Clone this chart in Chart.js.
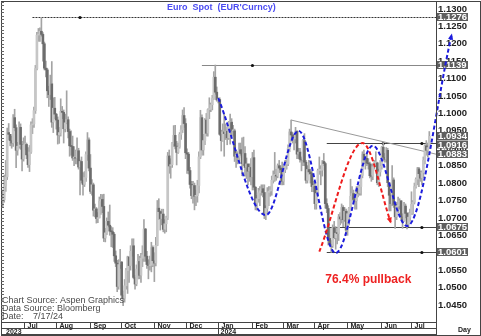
<!DOCTYPE html>
<html>
<head>
<meta charset="utf-8">
<script src="https://cdn.jsdelivr.net/npm/chart.js@4.4.1/dist/chart.umd.min.js"></script>
<style>
  html, body { margin: 0; padding: 0; background: #fff; }
</style>
</head>
<body>
<canvas id="myChart" width="481" height="336"></canvas>
<script>
// daily EUR/USD bars, first bar 2023-06-12, weekdays only
const firstOpen = 1.0750;
const closes = [
  1.0752,1.0792,1.0818,1.0945,1.0940,1.0922,1.0915,1.0988,1.0959,1.0894,1.0906,1.0960,1.0911,1.0869,1.0910,
  1.0911,1.0881,1.0853,1.0889,1.0967,1.0970,1.1008,1.1129,1.1225,1.1228,1.1236,1.1227,1.1200,1.1130,1.1125,1.1065,1.1054,1.1085,1.0975,1.1015,1.0998,
  1.0981,1.0938,1.0945,1.1006,1.1003,1.0956,1.0973,1.0982,1.0948,1.0907,1.0905,1.0872,1.0872,1.0871,1.0893,1.0846,1.0862,1.0808,1.0796,1.0816,1.0882,1.0924,1.0843,
  1.0776,1.0795,1.0722,1.0726,1.0698,1.0700,1.0748,1.0753,1.0733,1.0642,1.0657,1.0690,1.0679,1.0662,1.0660,1.0653,1.0591,1.0570,1.0503,1.0566,1.0573,
  1.0478,1.0469,1.0505,1.0549,1.0588,1.0563,1.0604,1.0620,1.0529,1.0510,1.0553,1.0575,1.0535,1.0584,1.0594,1.0668,1.0590,1.0566,1.0563,1.0564,1.0615,1.0577,
  1.0570,1.0621,1.0728,1.0718,1.0698,1.0711,1.0667,1.0683,1.0700,1.0878,1.0849,1.0853,1.0913,1.0937,1.0906,1.0888,1.0904,1.0940,1.0953,1.0994,1.0971,1.0887,
  1.0883,1.0836,1.0796,1.0764,1.0793,1.0762,1.0764,1.0793,1.0875,1.0988,1.0895,1.0922,1.0981,1.0943,1.1011,1.1012,1.1025,1.1043,1.1104,1.1061,1.1039,
  1.1040,1.0940,1.0922,1.0947,1.0942,1.0949,1.0930,1.0973,1.0975,1.0950,1.0950,1.0877,1.0884,1.0874,1.0896,1.0885,1.0856,1.0885,1.0845,1.0855,1.0834,1.0845,1.0818,
  1.0873,1.0788,1.0742,1.0755,1.0772,1.0778,1.0784,1.0773,1.0708,1.0727,1.0773,1.0777,1.0778,1.0808,1.0822,1.0823,1.0820,1.0850,1.0843,1.0838,1.0805,
  1.0838,1.0855,1.0855,1.0899,1.0947,1.0938,1.0927,1.0927,1.0949,1.0883,1.0889,1.0868,1.0866,1.0922,1.0860,1.0808,1.0839,1.0832,1.0827,1.0790,1.0791,
  1.0741,1.0770,1.0836,1.0837,1.0837,1.0862,1.0856,1.0741,1.0727,1.0641,1.0624,1.0620,1.0672,1.0643,1.0656,1.0655,1.0703,1.0697,1.0730,1.0695,1.0719,1.0665,
  1.0712,1.0727,1.0762,1.0770,1.0753,1.0749,1.0782,1.0771,1.0790,1.0822,1.0883,1.0866,1.0871,1.0857,1.0855,1.0821,1.0819,1.0847,1.0858,1.0858,1.0801,1.0832,1.0848,
  1.0903,1.0874,1.0868,1.0894,1.0801,1.0765,1.0741,1.0809,1.0739,1.0703,1.0734,1.0736,1.0749,1.0703,1.0692,1.0734,1.0713,1.0682,1.0702,1.0713,
  1.0739,1.0745,1.0790,1.0811,1.0841,1.0827,1.0814,1.0830,1.0865,1.0907,1.0894,1.0902,1.0934
];
const highs = [
  1.0780,1.0823,1.0865,1.0958,1.0971,1.0940,1.0935,1.0997,1.1012,1.0967,1.0917,1.0976,1.0970,1.0920,1.0930,
  1.0935,1.0915,1.0902,1.0908,1.0976,1.0985,1.1018,1.1138,1.1233,1.1244,1.1246,1.1276,1.1232,1.1205,1.1150,1.1130,1.1078,1.1110,1.1149,1.1045,1.1046,
  1.1000,1.0990,1.0960,1.1042,1.1020,1.1010,1.0998,1.1065,1.0990,1.0955,1.0950,1.0935,1.0905,1.0895,1.0930,1.0900,1.0866,1.0875,1.0830,1.0833,1.0890,1.0945,1.0930,
  1.0882,1.0810,1.0800,1.0740,1.0730,1.0715,1.0760,1.0768,1.0767,1.0768,1.0670,1.0700,1.0717,1.0737,1.0675,1.0672,1.0658,1.0605,1.0578,1.0580,1.0610,
  1.0575,1.0490,1.0523,1.0555,1.0590,1.0580,1.0620,1.0640,1.0640,1.0535,1.0565,1.0595,1.0590,1.0598,1.0620,1.0695,1.0670,1.0604,1.0580,1.0590,1.0630,1.0620,
  1.0600,1.0644,1.0750,1.0755,1.0720,1.0725,1.0725,1.0695,1.0705,1.0888,1.0895,1.0870,1.0917,1.0965,1.0966,1.0920,1.0915,1.0945,1.0965,1.1010,1.1017,1.0985,
  1.0898,1.0888,1.0845,1.0805,1.0805,1.0800,1.0780,1.0808,1.0890,1.1009,1.0996,1.0940,1.0985,1.1000,1.1013,1.1045,1.1030,1.1052,1.1120,1.1139,1.1076,
  1.1045,1.1045,1.0952,1.0970,1.0998,1.0970,1.0960,1.0977,1.0998,1.0985,1.0966,1.0955,1.0895,1.0890,1.0915,1.0915,1.0930,1.0932,1.0905,1.0872,1.0845,1.0855,1.0870,
  1.0888,1.0895,1.0790,1.0765,1.0785,1.0790,1.0795,1.0795,1.0795,1.0735,1.0787,1.0790,1.0790,1.0820,1.0835,1.0888,1.0840,1.0855,1.0865,1.0850,1.0860,
  1.0850,1.0865,1.0865,1.0910,1.0955,1.0981,1.0945,1.0940,1.0960,1.0950,1.0900,1.0900,1.0875,1.0925,1.0942,1.0865,1.0850,1.0865,1.0840,1.0835,1.0805,
  1.0800,1.0780,1.0840,1.0875,1.0850,1.0865,1.0885,1.0860,1.0755,1.0735,1.0670,1.0635,1.0680,1.0690,1.0675,1.0670,1.0710,1.0715,1.0740,1.0735,1.0730,1.0725,
  1.0720,1.0730,1.0811,1.0790,1.0780,1.0760,1.0790,1.0790,1.0795,1.0825,1.0890,1.0895,1.0875,1.0885,1.0870,1.0860,1.0855,1.0855,1.0865,1.0890,1.0860,1.0840,1.0865,
  1.0905,1.0916,1.0885,1.0902,1.0900,1.0790,1.0770,1.0850,1.0815,1.0745,1.0745,1.0760,1.0755,1.0750,1.0712,1.0745,1.0740,1.0715,1.0715,1.0725,
  1.0775,1.0750,1.0800,1.0815,1.0845,1.0845,1.0835,1.0835,1.0875,1.0910,1.0922,1.0915,1.0948
];
const lows = [
  1.0732,1.0745,1.0776,1.0810,1.0925,1.0907,1.0900,1.0905,1.0950,1.0844,1.0880,1.0900,1.0897,1.0835,1.0863,
  1.0895,1.0870,1.0845,1.0833,1.0885,1.0942,1.0960,1.1000,1.1125,1.1207,1.1207,1.1222,1.1150,1.1125,1.1105,1.1045,1.1020,1.1040,1.0960,1.0945,1.0985,
  1.0955,1.0912,1.0914,1.0935,1.0985,1.0915,1.0947,1.0970,1.0930,1.0877,1.0880,1.0865,1.0850,1.0855,1.0855,1.0840,1.0766,1.0800,1.0765,1.0790,1.0805,1.0865,1.0835,
  1.0770,1.0765,1.0705,1.0703,1.0685,1.0686,1.0700,1.0710,1.0715,1.0632,1.0631,1.0652,1.0674,1.0650,1.0617,1.0615,1.0575,1.0560,1.0488,1.0495,1.0555,
  1.0468,1.0448,1.0458,1.0495,1.0483,1.0515,1.0550,1.0590,1.0525,1.0495,1.0505,1.0525,1.0525,1.0515,1.0560,1.0575,1.0575,1.0555,1.0525,1.0550,1.0545,1.0560,
  1.0517,1.0562,1.0620,1.0695,1.0665,1.0680,1.0660,1.0656,1.0660,1.0695,1.0828,1.0814,1.0845,1.0905,1.0898,1.0852,1.0885,1.0900,1.0925,1.0945,1.0960,1.0870,
  1.0828,1.0826,1.0785,1.0755,1.0742,1.0723,1.0735,1.0745,1.0772,1.0870,1.0880,1.0880,1.0910,1.0935,1.0935,1.0985,1.1005,1.1010,1.1040,1.1055,1.1035,
  1.1030,1.0937,1.0892,1.0920,1.0877,1.0925,1.0910,1.0925,1.0912,1.0935,1.0935,1.0862,1.0845,1.0855,1.0860,1.0880,1.0821,1.0850,1.0820,1.0813,1.0795,1.0805,1.0795,
  1.0780,1.0780,1.0723,1.0722,1.0745,1.0735,1.0765,1.0760,1.0698,1.0695,1.0715,1.0735,1.0762,1.0765,1.0800,1.0805,1.0808,1.0815,1.0830,1.0795,1.0795,
  1.0795,1.0830,1.0840,1.0850,1.0890,1.0920,1.0915,1.0895,1.0915,1.0870,1.0870,1.0860,1.0835,1.0850,1.0850,1.0800,1.0800,1.0825,1.0800,1.0775,1.0775,
  1.0725,1.0725,1.0765,1.0825,1.0795,1.0820,1.0850,1.0728,1.0715,1.0622,1.0620,1.0601,1.0615,1.0640,1.0610,1.0625,1.0635,1.0680,1.0685,1.0675,1.0690,1.0650,
  1.0650,1.0680,1.0725,1.0750,1.0745,1.0725,1.0725,1.0760,1.0765,1.0765,1.0815,1.0855,1.0840,1.0850,1.0840,1.0815,1.0805,1.0810,1.0840,1.0850,1.0795,1.0790,1.0820,
  1.0840,1.0865,1.0860,1.0860,1.0790,1.0720,1.0720,1.0735,1.0730,1.0670,1.0695,1.0715,1.0725,1.0695,1.0670,1.0690,1.0700,1.0668,1.0675,1.0690,
  1.0710,1.0710,1.0740,1.0785,1.0795,1.0790,1.0805,1.0795,1.0815,1.0855,1.0880,1.0875,1.0900
];

const tickValues = [1.045,1.050,1.055,1.060,1.065,1.070,1.075,1.080,1.085,1.090,1.095,1.100,1.105,1.110,1.115,1.120,1.125,1.130];
const axisMarks = [1.1276, 1.1139, 1.0934, 1.0916, 1.0883, 1.0675, 1.0601];

// support / resistance levels
const levelValues = [1.1276, 1.1139, 1.0916, 1.0675, 1.0601];
const levelStarts = ["2023-07-10", "2023-12-15", "2024-04-11", "2024-04-11", "2024-04-11"];
const levelDots = [["2023-08-23"], ["2024-02-01"], ["2024-06-04", "2024-07-10"], ["2024-07-10"], ["2024-07-10"]];
const trendStart = ["2024-03-08", 1.0981];
const trendEndValue = 1.0883;

// hand drawn wave paths
const blueDates = ["2024-01-01", "2024-02-14", "2024-03-15", "2024-04-19", "2024-05-24", "2024-06-26", "2024-08-07"];
const blueValues = [1.1044, 1.0708, 1.0950, 1.0599, 1.0907, 1.0677, 1.1225];
const redDates = ["2024-04-04", "2024-05-15", "2024-06-11"];
const redValues = [1.0603, 1.0915, 1.0688];

const yMin = 1.0401, yMax = 1.1320;
const monthNames = ["Jan","Feb","Mar","Apr","May","Jun","Jul","Aug","Sep","Oct","Nov","Dec"];

let allDates = [];
for (let d = new Date(Date.UTC(2023, 5, 12)); allDates.length < 320; d.setUTCDate(d.getUTCDate() + 1)) {
  let wd = d.getUTCDay();
  if (wd !== 0 && wd !== 6) allDates.push(d.toISOString().slice(0, 10));
}
const slotDates = allDates.slice(0, closes.length + 4);
const idx = (d) => allDates.indexOf(d);

let opens = closes.map((c, i) => (i === 0 ? firstOpen : closes[i - 1]));

function drawText(ctx, txt, x, y, font, color, align) {
  ctx.font = font;
  ctx.fillStyle = color;
  ctx.textAlign = align || "left";
  ctx.textBaseline = "middle";
  ctx.fillText(txt, x, y);
}

function arrowHead(ctx, pt, color) {
  let a = Math.atan2(pt.y - pt.cp1y, pt.x - pt.cp1x);
  ctx.save();
  ctx.translate(pt.x, pt.y);
  ctx.rotate(a);
  ctx.beginPath();
  ctx.moveTo(1.5, 0);
  ctx.lineTo(-4.5, -2.6);
  ctx.lineTo(-4.5, 2.6);
  ctx.closePath();
  ctx.fillStyle = color;
  ctx.fill();
  ctx.restore();
}

const overlay = {
  id: "overlay",
  beforeDraw(chart) {
    let ctx = chart.ctx;
    ctx.save();
    ctx.fillStyle = "#fff";
    ctx.fillRect(0, 0, chart.width, chart.height);
    ctx.restore();
  },
  beforeDatasetsDraw(chart) {
    let { ctx, chartArea: a, scales } = chart;
    let x = scales.x, y = scales.y;
    ctx.save();
    // level lines
    levelValues.forEach((v, i) => {
      let yy = Math.round(y.getPixelForValue(v)) + 0.5;
      ctx.beginPath();
      ctx.strokeStyle = i === 0 ? "#333" : i === 1 ? "#888" : "#444";
      ctx.lineWidth = 1;
      ctx.setLineDash(i === 0 ? [2, 1] : []);
      ctx.moveTo(x.getPixelForValue(idx(levelStarts[i])), yy);
      ctx.lineTo(a.right, yy);
      ctx.stroke();
      ctx.setLineDash([]);
      levelDots[i].forEach((d) => {
        ctx.beginPath();
        ctx.fillStyle = "#111";
        ctx.arc(x.getPixelForValue(idx(d)), yy, 1.6, 0, Math.PI * 2);
        ctx.fill();
      });
    });
    // falling trend line from the March high
    ctx.beginPath();
    ctx.strokeStyle = "#999";
    ctx.lineWidth = 1;
    ctx.moveTo(x.getPixelForValue(idx(trendStart[0])), y.getPixelForValue(trendStart[1]));
    ctx.lineTo(a.right, y.getPixelForValue(trendEndValue));
    ctx.stroke();
    // value boxes on the price axis, pushed down when they would overlap
    let lastBottom = -99;
    axisMarks.forEach((v) => {
      let top = Math.max(Math.round(y.getPixelForValue(v)) - 4, lastBottom);
      lastBottom = top + 8.5;
      ctx.fillStyle = "#5e5e5e";
      ctx.fillRect(a.right + 1, top, 31, 8);
      drawText(ctx, v.toFixed(4), a.right + 2, top + 4.5, "bold 9.5px Arial", "#fff");
    });
    ctx.restore();
  },
  afterDatasetsDraw(chart) {
    let { ctx, chartArea: a, scales } = chart;
    let x = scales.x, y = scales.y;
    ctx.save();
    let blue = chart.getDatasetMeta(2).data;
    let red = chart.getDatasetMeta(3).data;
    arrowHead(ctx, blue[blue.length - 1], "#1c1cdc");
    arrowHead(ctx, red[red.length - 1], "#ee1c1c");

    drawText(ctx, "Euro  Spot  (EUR'Curncy)", 167, 7.5, "bold 9px Arial", "#4b4bf2");
    drawText(ctx, "76.4% pullback", x.getPixelForValue(idx("2024-04-10")), y.getPixelForValue(1.0522), "bold 12px Arial", "#ee2222");
    drawText(ctx, "Chart Source: Aspen Graphics", 2, 301, "9px Arial", "#4a4a4a");
    drawText(ctx, "Data Source: Bloomberg", 2, 309, "9px Arial", "#4a4a4a");
    drawText(ctx, "Date:", 2, 317, "9px Arial", "#4a4a4a");
    drawText(ctx, "7/17/24", 33, 317, "9px Arial", "#4a4a4a");

    // frame
    ctx.strokeStyle = "#444";
    ctx.lineWidth = 1;
    ctx.strokeRect(a.left - 0.5, a.top - 0.5, chart.width - a.left, chart.height - a.top);
    ctx.beginPath();
    ctx.moveTo(a.right + 0.5, a.top);
    ctx.lineTo(a.right + 0.5, chart.height);
    ctx.stroke();
    // left minor ticks
    ctx.strokeStyle = "#666";
    for (let v = 1.041; v < yMax; v += 0.001) {
      let yy = Math.round(y.getPixelForValue(v)) + 0.5;
      ctx.beginPath();
      ctx.moveTo(a.left - 1, yy);
      ctx.lineTo(a.left + 2, yy);
      ctx.stroke();
    }

    // date rows under the plot
    let r0 = a.bottom + 0.5, r1 = a.bottom + 6.5, r2 = a.bottom + 12.5;
    ctx.strokeStyle = "#444";
    ctx.beginPath();
    ctx.moveTo(a.left, r0); ctx.lineTo(a.right, r0);
    ctx.moveTo(a.left, r1); ctx.lineTo(a.right, r1);
    ctx.moveTo(a.left, r2); ctx.lineTo(a.right, r2);
    ctx.stroke();
    let half = (x.getPixelForValue(1) - x.getPixelForValue(0)) / 2;
    for (let i = 1; i < slotDates.length; i++) {
      let m = slotDates[i].slice(5, 7), pm = slotDates[i - 1].slice(5, 7);
      if (m === pm) continue;
      let sx = Math.round(x.getPixelForValue(i) - half) + 0.5;
      ctx.beginPath();
      ctx.moveTo(sx, r0); ctx.lineTo(sx, r1);
      ctx.stroke();
      drawText(ctx, monthNames[+m - 1], sx + 3, a.bottom + 3.8, "bold 7px Arial", "#222");
      if (m === "01") {
        ctx.beginPath();
        ctx.moveTo(sx, r1); ctx.lineTo(sx, r2);
        ctx.stroke();
        drawText(ctx, slotDates[i].slice(0, 4), sx + 2, a.bottom + 9.8, "bold 7px Arial", "#222");
      }
    }
    drawText(ctx, slotDates[0].slice(0, 4), a.left + 4, a.bottom + 9.8, "bold 7px Arial", "#222");
    drawText(ctx, "Day", a.right + 22, a.bottom + 8, "bold 7px Arial", "#222");
    ctx.restore();
  }
};

let ctx = document.getElementById("myChart").getContext("2d");
let chart = new Chart(ctx, {
  type: "bar",
  data: {
    labels: slotDates,
    datasets: [
      {
        label: "range",
        data: lows.map((l, i) => [l, highs[i]]),
        backgroundColor: "#a4a4a4",
        barThickness: 1,
        grouped: false,
        order: 3
      },
      {
        label: "body",
        data: closes.map((c, i) => [opens[i], c]),
        backgroundColor: closes.map((c, i) => (c >= opens[i] ? "#c6c6c6" : "#6c6c6c")),
        barThickness: 2,
        minBarLength: 1,
        grouped: false,
        order: 2
      },
      {
        type: "line",
        label: "wave",
        xAxisID: "x2",
        data: blueDates.map((d, i) => ({ x: idx(d), y: blueValues[i] })),
        borderColor: "#1c1cdc",
        borderWidth: 2,
        borderDash: [4, 2.5],
        pointRadius: 0,
        cubicInterpolationMode: "monotone",
        clip: false,
        order: 1
      },
      {
        type: "line",
        label: "pullback",
        xAxisID: "x2",
        data: redDates.map((d, i) => ({ x: idx(d), y: redValues[i] })),
        borderColor: "#ee1c1c",
        borderWidth: 2,
        borderDash: [4, 2.5],
        pointRadius: 0,
        cubicInterpolationMode: "monotone",
        clip: false,
        order: 0
      }
    ]
  },
  options: {
    responsive: false,
    devicePixelRatio: 1,
    animation: false,
    events: [],
    layout: { padding: { left: 2, top: 2, right: 0, bottom: 14 } },
    elements: { line: { capBezierPoints: false } },
    plugins: { legend: { display: false }, tooltip: { enabled: false } },
    scales: {
      x: { type: "category", display: false, offset: true, grid: { display: false } },
      // offset must be off, otherwise the linear axis pads its range
      x2: { type: "linear", display: false, offset: false, min: -0.5, max: slotDates.length - 0.5 },
      y: {
        position: "right",
        min: yMin,
        max: yMax,
        afterBuildTicks: (s) => { s.ticks = tickValues.map((v) => ({ value: v })); },
        afterFit: (s) => { s.width = 45; s.paddingTop = 0; s.paddingBottom = 0; },
        grid: { display: false, drawTicks: false },
        border: { display: true, color: "#444" },
        ticks: {
          padding: 2,
          autoSkip: false,
          color: "#222",
          font: { family: "Arial", size: 9.5, weight: "bold" },
          callback: (v) => Number(v).toFixed(4)
        }
      }
    }
  },
  plugins: [overlay]
});
</script>
</body>
</html>
